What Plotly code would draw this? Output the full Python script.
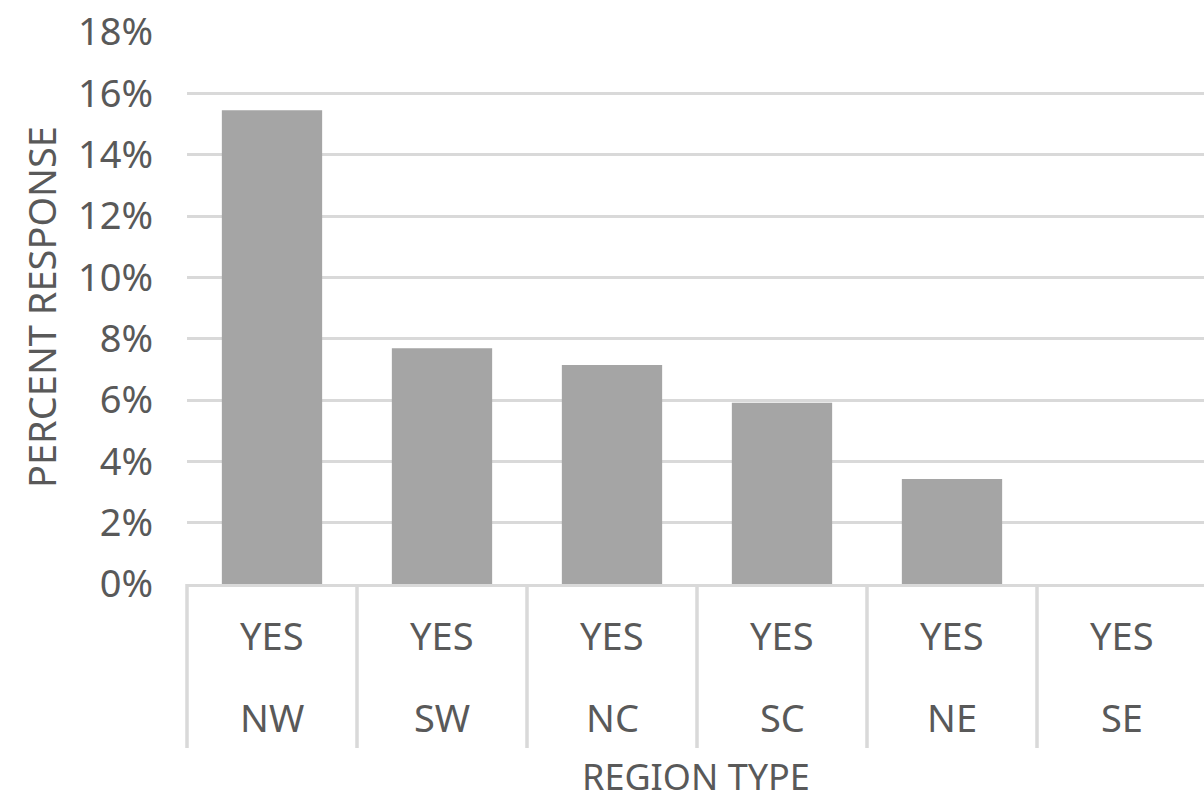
import plotly.graph_objects as go

regions = ["NW", "SW", "NC", "SC", "NE", "SE"]
answer = ["YES", "YES", "YES", "YES", "YES", "YES"]
percent = [0.1545, 0.0769, 0.0714, 0.0591, 0.0342, 0.0]

TEXT = "#595959"
GRID = "#d9d9d9"
FONT = "Noto Sans"
FS = 38

x_idx = list(range(len(regions)))
x0, x1 = -0.5, len(regions) - 0.5 - 3 / 170

fig = go.Figure()
fig.add_trace(go.Bar(x=x_idx, y=percent, marker=dict(color="#a5a5a5", line=dict(width=0)),
                     width=0.59, hoverinfo="skip"))

# category labels (two rows) and dividers
for i, (a, r) in enumerate(zip(answer, regions)):
    fig.add_annotation(x=i, xref="x", y=0, yref="paper", yshift=-51, text=a,
                       showarrow=False, xanchor="center", yanchor="middle",
                       font=dict(family=FONT, size=FS, color=TEXT))
    fig.add_annotation(x=i, xref="x", y=0, yref="paper", yshift=-133, text=r,
                       showarrow=False, xanchor="center", yanchor="middle",
                       font=dict(family=FONT, size=FS, color=TEXT))
for k in range(len(regions) + 1):
    xp = (k - 0.5 - x0) / (x1 - x0)
    if xp > 1.0:
        continue
    fig.add_shape(type="line", xref="paper", yref="paper", x0=xp, x1=xp,
                  y0=0, y1=-164 / 552, line=dict(color=GRID, width=3.5))

fig.add_annotation(x=0.5, xref="paper", y=0, yref="paper", yshift=-192,
                   text="REGION TYPE", showarrow=False, xanchor="center", yanchor="middle",
                   font=dict(family=FONT, size=36, color=TEXT))
fig.add_annotation(x=0, xref="paper", xshift=-146, y=(584 - 307) / 552, yref="paper",
                   text="PERCENT RESPONSE", textangle=-90, showarrow=False,
                   xanchor="center", yanchor="middle",
                   font=dict(family=FONT, size=FS, color=TEXT))

fig.update_layout(
    width=1204, height=804,
    margin=dict(l=187, r=0, t=32, b=220),
    paper_bgcolor="white", plot_bgcolor="white",
    showlegend=False,
    xaxis=dict(range=[x0, x1], showticklabels=False, showgrid=False, zeroline=False,
               showline=True, linecolor=GRID, linewidth=3, ticks=""),
    yaxis=dict(range=[0, 0.18], dtick=0.02, tickformat=".0%", showgrid=True,
               gridcolor=GRID, gridwidth=2.5, zeroline=False, showline=False,
               ticks="", ticklabelstandoff=33,
               tickfont=dict(family=FONT, size=FS, color=TEXT)),
    font=dict(family=FONT, color=TEXT),
)

fig.write_html("out.html")
